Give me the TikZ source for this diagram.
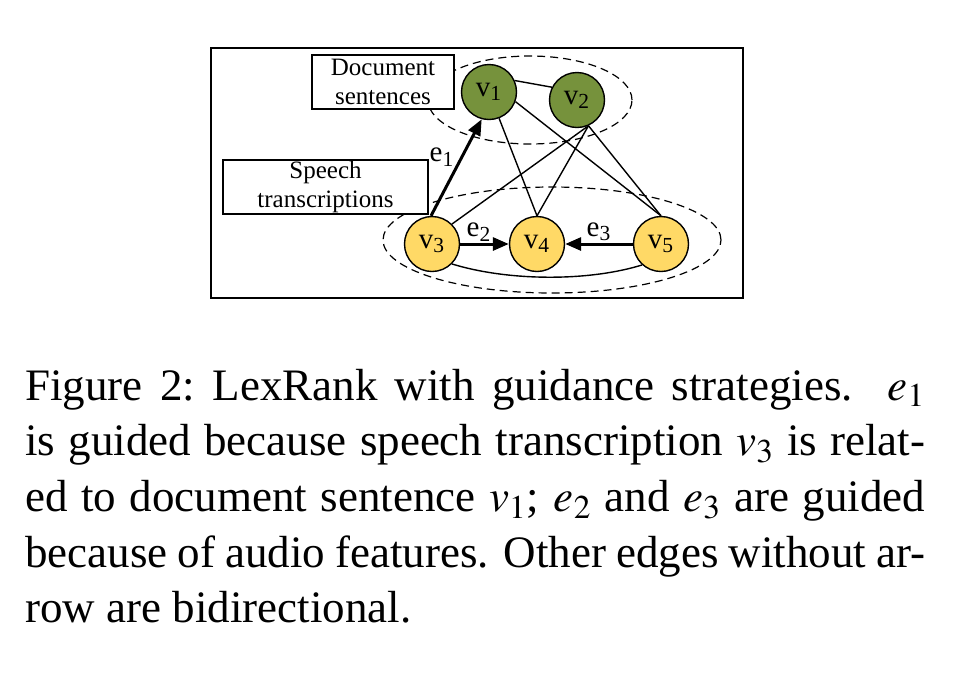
\documentclass[tikz,border=0pt]{standalone}
\usepackage{mathptmx}
\usepackage{fontspec}
\setmainfont{Liberation Serif}
\usetikzlibrary{arrows.meta}

\definecolor{docgreen}{RGB}{118,146,60}
\definecolor{speechyellow}{RGB}{255,217,102}

\begin{document}
\begin{tikzpicture}[x=0.5pt, y=-0.5pt,
	sentence/.style={circle, draw, line width=0.7pt, minimum size=27.5pt, inner sep=0pt, font=\fontsize{14.5}{16}\selectfont},
	docnode/.style={sentence, fill=docgreen},
	speechnode/.style={sentence, fill=speechyellow},
	groupbox/.style={draw, line width=0.7pt, fill=white, align=center, inner sep=0pt, minimum height=27pt, font=\fontsize{12.5}{14.5}\selectfont},
	grouping/.style={dash pattern=on 4pt off 2.5pt, line width=0.6pt},
	simedge/.style={line width=0.7pt},
	guided/.style={line width=1.5pt, -{Triangle[length=8pt, width=6.5pt]}},
	edgelabel/.style={inner sep=0pt, font=\fontsize{14.5}{16}\selectfont},
	capline/.style={anchor=base west, inner sep=0pt, font=\fontsize{22.5}{26}\selectfont}]
	\useasboundingbox (0,0) rectangle (954,692);
	
	\def\capWidth{450pt} % Width of the justified caption lines
	
	% Draw the frame
	\draw[line width=0.8pt] (211,48) rectangle (743,298);
	
	% Dashed groups
	\draw[grouping] (530,100) ellipse [x radius=51pt, y radius=22pt];
	\draw[grouping] (552,240) ellipse [x radius=84.5pt, y radius=26.5pt];
	
	% Group labels
	\node[groupbox, minimum width=71pt] (docs) at (383,82) {Document\\sentences};
	\node[groupbox, minimum width=102.5pt] (speech) at (325.5,187) {Speech\\transcriptions};
	
	% Sentences
	\node[docnode] (v1) at (489,92) {v\textsubscript{1}};
	\node[docnode] (v2) at (577,100) {v\textsubscript{2}};
	\node[speechnode] (v3) at (432,244) {v\textsubscript{3}};
	\node[speechnode] (v4) at (537,244) {v\textsubscript{4}};
	\node[speechnode] (v5) at (661,244) {v\textsubscript{5}};
	
	% Bidirectional edges
	\draw[simedge] (v1.24) -- (v2.153);
	\draw[simedge] (v1.-69) -- (v4.north);
	\draw[simedge] (v1.-20) -- (v5.north);
	\draw[simedge] (v2.-66) -- (v3.45);
	\draw[simedge] (v2.-66) -- (v4.north);
	\draw[simedge] (v2.-66) -- (v5.north);
	\draw[simedge] (v3.-45) .. controls +(55,17) and +(-55,17) .. (v5.-132);
	
	% Guided edges
	\draw[guided] (v3.92) -- (v1.-105);
	\draw[guided] (v3) -- (v4);
	\draw[guided] (v5) -- (v4);
	\node[edgelabel] (e1) at (442,157) {e\textsubscript{1}};
	\node[edgelabel] (e2) at (479,232) {e\textsubscript{2}};
	\node[edgelabel] (e3) at (599,232) {e\textsubscript{3}};
	
	% Caption, justified lines
	\foreach \txt [count=\i] in {{Figure 2:\ LexRank with guidance strategies.\ \ $e_1$},
		{is guided because speech transcription $v_3$ is relat-},
		{ed to document sentence $v_1$; $e_2$ and $e_3$ are guided},
		{because of audio features. Other edges without ar-}} {
		\node[capline] (cap\i) at (25, 344.3+55.7*\i) {\makebox[\capWidth][s]{\txt}};
	}
	\node[capline] (cap5) at (25,622.8) {row are bidirectional.};
\end{tikzpicture}
\end{document}
